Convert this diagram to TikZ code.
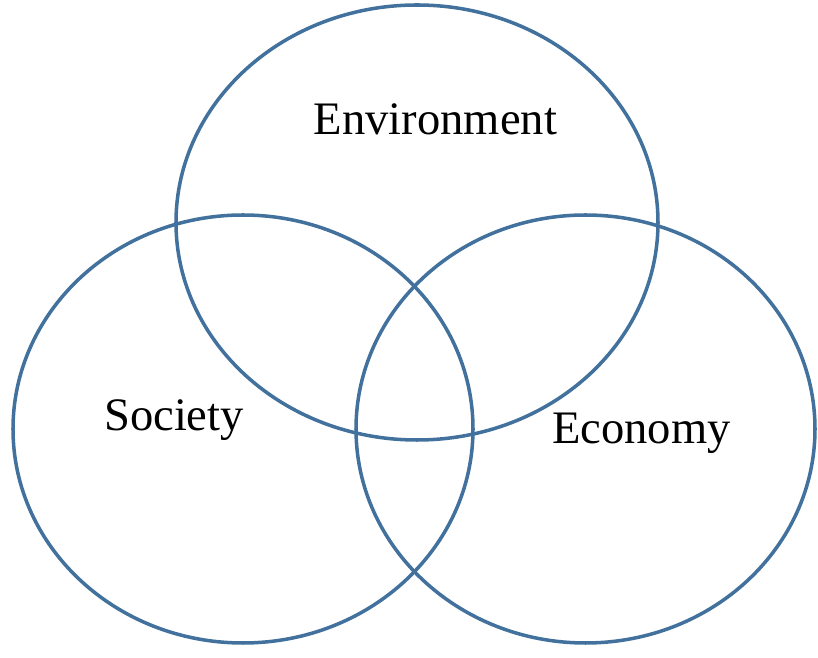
\documentclass[tikz,border=0pt]{standalone}
\usepackage{fontspec}
\setmainfont{Liberation Serif}
\definecolor{ringblue}{RGB}{65,113,156}

\begin{document}
\begin{tikzpicture}[ring/.style={line width=2pt,ringblue},
                    label/.style={anchor=base,font=\fontsize{26.5}{30}\selectfont}]
                        \useasboundingbox (0,0) rectangle (16.36,13.16);

                        \draw[ring] (8.34,8.71) ellipse (4.82 and 4.35);
                        \draw[ring] (4.86,4.58) ellipse (4.60 and 4.28);
                        \draw[ring] (11.71,4.58) ellipse (4.59 and 4.28);

                        \node[label] (env) at (8.71,10.46) {Environment};
                        \node[label] (soc) at (3.48,4.54) {Society};
                        \node[label] (eco) at (12.83,4.28) {Economy};
                    \end{tikzpicture}
\end{document}
